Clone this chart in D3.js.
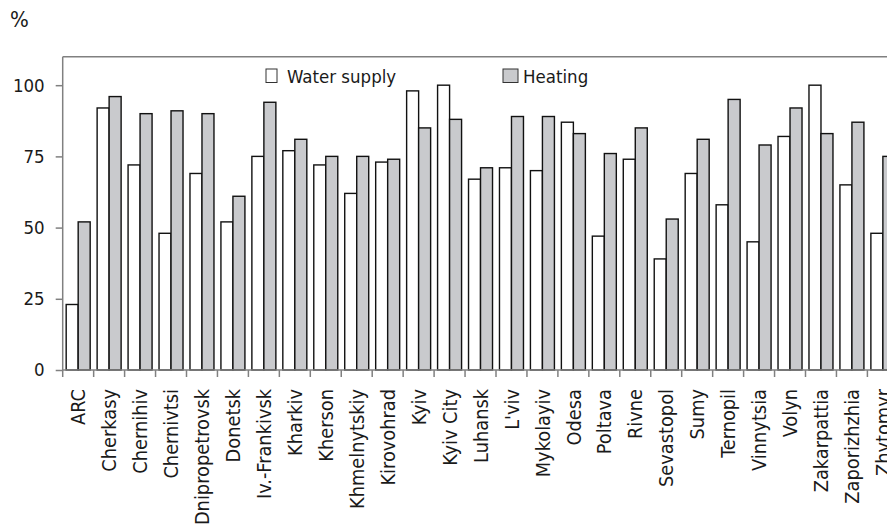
<!DOCTYPE html>
<html>
<head>
<meta charset="utf-8">
<script src="https://cdn.jsdelivr.net/npm/d3@7/dist/d3.min.js"></script>
<style>
  html, body { margin: 0; padding: 0; background: #fff; overflow: hidden; }
  svg { display: block; font-family: "DejaVu Sans Condensed", "DejaVu Sans", sans-serif; }
</style>
</head>
<body>
<svg id="chart" width="887" height="527"></svg>
<script>
// Share of housing with water supply and heating, by region (%)
const regions = ["ARC", "Cherkasy", "Chernihiv", "Chernivtsi", "Dnipropetrovsk", "Donetsk",
  "Iv.-Frankivsk", "Kharkiv", "Kherson", "Khmelnytskiy", "Kirovohrad", "Kyiv", "Kyiv City",
  "Luhansk", "L'viv", "Mykolayiv", "Odesa", "Poltava", "Rivne", "Sevastopol", "Sumy",
  "Ternopil", "Vinnytsia", "Volyn", "Zakarpattia", "Zaporizhzhia", "Zhytomyr"];
const waterSupply = [23, 92, 72, 48, 69, 52, 75, 77, 72, 62, 73, 98, 100,
  67, 71, 70, 87, 47, 74, 39, 69, 58, 45, 82, 100, 65, 48];
const heating = [52, 96, 90, 91, 90, 61, 94, 81, 75, 75, 74, 85, 88,
  71, 89, 89, 83, 76, 85, 53, 81, 95, 79, 92, 83, 87, 75];
const seriesNames = ["Water supply", "Heating"];
const seriesFill = ["#ffffff", "#c9cacd"];
const yTicks = [0, 25, 50, 75, 100];

const svg = d3.select("#chart");
const plotLeft = 62.7, plotTop = 56.7, plotBottom = 370;
const step = 30.95;
const fontSize = "18.5px";
const labelSize = "19.8px";

const x = d3.scaleBand().domain(regions)
  .range([plotLeft, plotLeft + regions.length * step]).paddingInner(0).paddingOuter(0);
const xs = d3.scaleBand().domain(seriesNames)
  .range([0, x.bandwidth()]).paddingInner(0).paddingOuter(0.29);
const y = d3.scaleLinear().domain([0, 110]).range([plotBottom, plotTop]);

const axisColor = "#808080";
const textColor = "#1a1a1a";

// bars
const rows = regions.map((r, i) => ({ region: r, values: [waterSupply[i], heating[i]] }));
const groups = svg.append("g").selectAll("g").data(rows).join("g")
  .attr("transform", d => `translate(${x(d.region)},0)`);
groups.selectAll("rect")
  .data(d => d.values.map((v, k) => ({ series: seriesNames[k], k, v })))
  .join("rect")
  .attr("x", d => xs(d.series))
  .attr("y", d => y(d.v))
  .attr("width", xs.bandwidth())
  .attr("height", d => y(0) - y(d.v))
  .attr("fill", d => seriesFill[d.k])
  .attr("stroke", "#111")
  .attr("stroke-width", 1.4);

// frame top line
svg.append("line")
  .attr("x1", plotLeft).attr("x2", 900).attr("y1", plotTop).attr("y2", plotTop)
  .attr("stroke", axisColor).attr("stroke-width", 1.5);

// y axis
const yAxis = svg.append("g").attr("transform", `translate(${plotLeft},0)`)
  .call(d3.axisLeft(y).tickValues(yTicks).tickSize(7).tickPadding(11));
yAxis.attr("font-family", null);
yAxis.select(".domain").attr("d", `M0,${plotTop}V${plotBottom}`)
  .attr("stroke", axisColor).attr("stroke-width", 1.5);
yAxis.selectAll(".tick line").attr("stroke", axisColor).attr("stroke-width", 1.5);
yAxis.selectAll(".tick text").attr("fill", textColor).style("font-size", fontSize);

// x axis: ticks on band boundaries
const xAxisG = svg.append("g");
xAxisG.append("line")
  .attr("x1", plotLeft).attr("x2", 900).attr("y1", plotBottom).attr("y2", plotBottom)
  .attr("stroke", axisColor).attr("stroke-width", 1.5);
const bounds = regions.map(r => x(r));
xAxisG.selectAll("line.tk").data(bounds).join("line")
  .attr("class", "tk")
  .attr("x1", d => d).attr("x2", d => d)
  .attr("y1", plotBottom).attr("y2", plotBottom + 7)
  .attr("stroke", axisColor).attr("stroke-width", 1.5);
xAxisG.selectAll("text").data(regions).join("text")
  .attr("transform", d => `translate(${x(d) + x.bandwidth() / 2},${plotBottom + 19}) rotate(-90)`)
  .attr("text-anchor", "end")
  .attr("dy", "0.36em")
  .attr("fill", textColor)
  .style("font-size", labelSize)
  .text(d => d);

// unit label
svg.append("text").attr("x", 10).attr("y", 27)
  .attr("fill", textColor).style("font-size", "22px").text("%");

// legend
const legend = [
  { name: seriesNames[0], fill: seriesFill[0], sx: 266, sw: 11, tx: 287 },
  { name: seriesNames[1], fill: seriesFill[1], sx: 503, sw: 15, tx: 523 }
];
const lg = svg.append("g").selectAll("g").data(legend).join("g");
lg.append("rect")
  .attr("x", d => d.sx).attr("y", 69).attr("width", d => d.sw).attr("height", 13.5)
  .attr("fill", d => d.fill).attr("stroke", "#333").attr("stroke-width", 1);
lg.append("text")
  .attr("x", d => d.tx).attr("y", 83)
  .attr("fill", textColor).style("font-size", fontSize)
  .text(d => d.name);
</script>
</body>
</html>
